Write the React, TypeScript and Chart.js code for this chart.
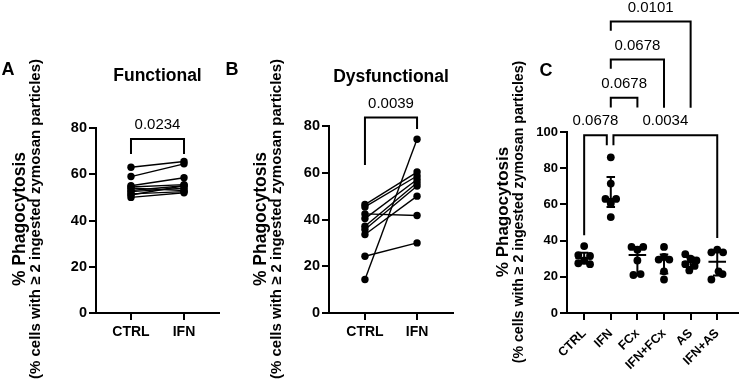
import React, { useEffect, useRef } from 'react';
import { Chart, registerables } from 'chart.js';

Chart.register(...registerables);

const FONT = '"Liberation Sans", Arial, Helvetica, sans-serif';

// ---------- data ----------
const pairLabels = ['CTRL', 'IFN'];

// Panel A – Functional (paired CTRL -> IFN)
const aCtrl = [63, 59, 55, 54.5, 54, 53, 52.5, 51.5, 51, 50];
const aIfn = [65.5, 64.5, 58.5, 55.5, 53, 55, 54, 52.5, 55, 52];

// Panel B – Dysfunctional (paired CTRL -> IFN)
const bCtrl = [14.3, 24.3, 42.4, 46.4, 45.4, 40.4, 37.1, 35.7, 33.6];
const bIfn = [74.3, 30, 41.7, 60.3, 58.6, 57.1, 55.7, 54.3, 50];

// Panel C – groups
const cCategories = ['CTRL', 'IFN', 'FCx', 'IFN+FCx', 'AS', 'IFN+AS'];
const cCtrl = [37, 32, 31.5, 27.5, 27, 29];
const cIfn = [86, 71.5, 63, 63, 60.5, 53];
const cFcx = [36.5, 36.5, 35, 29, 21, 21.5];
const cIfnFcx = [36.5, 31, 29.5, 29.5, 23, 18.5];
const cAs = [32.5, 30, 29, 27, 26, 23.5];
const cIfnAs = [35, 33.5, 33.5, 23, 21.5, 18.5];
const cGroups = [cCtrl, cIfn, cFcx, cIfnFcx, cAs, cIfnAs];
// horizontal scatter spread of each dot, in category units
const cCtrlJitter = [0, -0.22, 0.22, -0.22, 0.22, 0];
const cIfnJitter = [0, 0, -0.2, 0.2, 0, 0];
const cFcxJitter = [-0.22, 0.22, 0, 0, -0.15, 0.12];
const cIfnFcxJitter = [0, 0, -0.2, 0.2, 0, 0];
const cAsJitter = [-0.2, 0, 0.22, -0.2, 0.15, -0.05];
const cIfnAsJitter = [0, -0.22, 0.22, 0.05, 0.2, -0.22];
const cJitters = [cCtrlJitter, cIfnJitter, cFcxJitter, cIfnFcxJitter, cAsJitter, cIfnAsJitter];

const abYTicks = [0, 20, 40, 60, 80];
const cYTicks = [0, 20, 40, 60, 80, 100];

type Bracket = {
  from: number; to: number; fromDx: number; toDx: number;
  top: number; fromEnd: number; toEnd: number; label: string;
};

const aBrackets: Bracket[] = [
  { from: 0, to: 1, fromDx: 0, toDx: 0, top: 75.2, fromEnd: 68.8, toEnd: 68.8, label: '0.0234' },
];
const bBrackets: Bracket[] = [
  { from: 0, to: 1, fromDx: 0, toDx: 0, top: 83.6, fromEnd: 63.3, toEnd: 78.7, label: '0.0039' },
];
const cBrackets: Bracket[] = [
  { from: 0, to: 1, fromDx: 0, toDx: -0.15, top: 98.2, fromEnd: 43, toEnd: 92.7, label: '0.0678' },
  { from: 1, to: 5, fromDx: 0.1, toDx: 0, top: 98.2, fromEnd: 92.7, toEnd: 41.5, label: '0.0034' },
  { from: 1, to: 2, fromDx: 0, toDx: 0, top: 118.9, fromEnd: 113.6, toEnd: 113.6, label: '0.0678' },
  { from: 1, to: 3, fromDx: 0, toDx: 0, top: 140, fromEnd: 134.9, toEnd: 113.4, label: '0.0678' },
  { from: 1, to: 4, fromDx: 0, toDx: 0, top: 161.1, fromEnd: 156, toEnd: 113.4, label: '0.0101' },
];

// ---------- helpers ----------
function quantile(values: number[], p: number) {
  const s = [...values].sort((a, b) => a - b);
  const n = s.length;
  const pos = p * (n + 1);
  const lo = Math.floor(pos);
  const frac = pos - lo;
  if (lo < 1) return s[0];
  if (lo >= n) return s[n - 1];
  return s[lo - 1] + frac * (s[lo] - s[lo - 1]);
}

function drawBrackets(chart: any, brackets: Bracket[]) {
  const ctx = chart.ctx;
  const xs = chart.scales.x;
  const ys = chart.scales.y;
  ctx.save();
  ctx.strokeStyle = '#000';
  ctx.lineWidth = 2;
  ctx.lineJoin = 'miter';
  ctx.lineCap = 'butt';
  ctx.fillStyle = '#000';
  ctx.font = `15px ${FONT}`;
  ctx.textAlign = 'center';
  ctx.textBaseline = 'middle';
  brackets.forEach((b) => {
    const x1 = xs.getPixelForValue(b.from + b.fromDx);
    const x2 = xs.getPixelForValue(b.to + b.toDx);
    const yt = ys.getPixelForValue(b.top);
    ctx.beginPath();
    ctx.moveTo(x1, ys.getPixelForValue(b.fromEnd));
    ctx.lineTo(x1, yt);
    ctx.lineTo(x2, yt);
    ctx.lineTo(x2, ys.getPixelForValue(b.toEnd));
    ctx.stroke();
    ctx.fillText(b.label, (x1 + x2) / 2, yt - 14);
  });
  ctx.restore();
}

type Deco = {
  title?: string;
  letter: string;
  letterX: number;
  letterY: number;
  titleY?: number;
  yTitleX1: number;
  yTitleX2: number;
  yTitleCY: number;
  size1: number;
  size2: number;
};

function drawDeco(chart: any, d: Deco) {
  const ctx = chart.ctx;
  const area = chart.chartArea;
  ctx.save();
  ctx.fillStyle = '#000';
  ctx.textAlign = 'center';
  ctx.textBaseline = 'middle';
  ctx.font = `bold 18px ${FONT}`;
  ctx.fillText(d.letter, d.letterX, d.letterY);
  if (d.title) {
    ctx.font = `bold 17.5px ${FONT}`;
    ctx.fillText(d.title, (area.left + area.right) / 2, d.titleY);
  }
  const lines = [
    { text: '% Phagocytosis', size: d.size1, x: d.yTitleX1 },
    { text: '(% cells with \u2265 2 ingested zymosan particles)', size: d.size2, x: d.yTitleX2 },
  ];
  lines.forEach((l) => {
    ctx.save();
    ctx.translate(l.x, d.yTitleCY);
    ctx.rotate(-Math.PI / 2);
    ctx.font = `bold ${l.size}px ${FONT}`;
    ctx.fillText(l.text, 0, 0);
    ctx.restore();
  });
  ctx.restore();
}

function xScale(min: number, max: number, labels: string[], rotate: number, pad: number, size: number) {
  return {
    type: 'linear',
    min,
    max,
    afterBuildTicks: (s: any) => {
      s.ticks = labels.map((_, i) => ({ value: i }));
    },
    afterFit: (s: any) => {
      s.height = 72;
      s.paddingLeft = 0;
      s.paddingRight = 0;
    },
    ticks: {
      callback: (v: any) => labels[Math.round(Number(v))] ?? '',
      font: { family: FONT, size, weight: 'bold' },
      color: '#000',
      padding: pad,
      minRotation: rotate,
      maxRotation: rotate,
      autoSkip: false,
    },
    grid: { drawOnChartArea: false, drawTicks: true, tickLength: 7, color: '#000', lineWidth: 2 },
    border: { display: true, color: '#000', width: 2 },
  };
}

function yScale(ticks: number[], size: number) {
  return {
    type: 'linear',
    min: ticks[0],
    max: ticks[ticks.length - 1],
    afterBuildTicks: (s: any) => {
      s.ticks = ticks.map((v) => ({ value: v }));
    },
    afterFit: (s: any) => {
      s.width = 40;
      s.paddingTop = 0;
      s.paddingBottom = 0;
    },
    ticks: {
      font: { family: FONT, size, weight: 'bold' },
      color: '#000',
      padding: 2,
    },
    grid: { drawOnChartArea: false, drawTicks: true, tickLength: 7, color: '#000', lineWidth: 2 },
    border: { display: true, color: '#000', width: 2 },
  };
}

function pairConfig(
  ctrl: number[], ifn: number[], padding: any, xMin: number, xMax: number,
  brackets: Bracket[], deco: Deco,
) {
  return {
    type: 'scatter',
    data: {
      datasets: ctrl.map((c, i) => ({
        data: [{ x: 0, y: c }, { x: 1, y: ifn[i] }],
        showLine: true,
        borderColor: '#000',
        borderWidth: 1.4,
        pointRadius: 3.7,
        pointBackgroundColor: '#000',
        pointBorderWidth: 0,
        clip: false,
      })),
    },
    options: {
      animation: false,
      responsive: false,
      devicePixelRatio: 1,
      layout: { padding },
      plugins: { legend: { display: false }, tooltip: { enabled: false }, title: { display: false } },
      scales: {
        x: xScale(xMin, xMax, pairLabels, 0, 4, 14),
        y: yScale(abYTicks, 14.5),
      },
    },
    plugins: [
      {
        id: 'deco',
        afterDraw(chart: any) {
          drawBrackets(chart, brackets);
          drawDeco(chart, deco);
        },
      },
    ],
  };
}

function groupConfig() {
  const datasets = cGroups.map((vals, gi) => ({
    data: vals.map((v, j) => ({ x: gi + cJitters[gi][j], y: v })),
    showLine: false,
    pointRadius: 3.9,
    pointBackgroundColor: '#000',
    pointBorderWidth: 0,
    clip: false,
  }));
  return {
    type: 'scatter',
    data: { datasets },
    options: {
      animation: false,
      responsive: false,
      devicePixelRatio: 1,
      layout: { padding: { left: 527, right: 0, top: 132, bottom: 0 } },
      plugins: { legend: { display: false }, tooltip: { enabled: false }, title: { display: false } },
      scales: {
        x: xScale(-0.645, 5.78, cCategories, 45, 6, 12.5),
        y: yScale(cYTicks, 13),
      },
    },
    plugins: [
      {
        id: 'errbars',
        afterDatasetsDraw(chart: any) {
          const ctx = chart.ctx;
          const xs = chart.scales.x;
          const ys = chart.scales.y;
          ctx.save();
          ctx.strokeStyle = '#000';
          ctx.lineWidth = 2;
          cGroups.forEach((vals, gi) => {
            const med = quantile(vals, 0.5);
            const q1 = quantile(vals, 0.25);
            const q3 = quantile(vals, 0.75);
            const xc = xs.getPixelForValue(gi);
            const mw = xs.getPixelForValue(gi + 0.33) - xc;
            const cw = xs.getPixelForValue(gi + 0.16) - xc;
            const ym = ys.getPixelForValue(med);
            const y1 = ys.getPixelForValue(q1);
            const y3 = ys.getPixelForValue(q3);
            ctx.beginPath();
            ctx.moveTo(xc - mw, ym);
            ctx.lineTo(xc + mw, ym);
            ctx.moveTo(xc, y1);
            ctx.lineTo(xc, y3);
            ctx.moveTo(xc - cw, y1);
            ctx.lineTo(xc + cw, y1);
            ctx.moveTo(xc - cw, y3);
            ctx.lineTo(xc + cw, y3);
            ctx.stroke();
          });
          ctx.restore();
        },
        afterDraw(chart: any) {
          drawBrackets(chart, cBrackets);
          drawDeco(chart, {
            letter: 'C', letterX: 546, letterY: 71,
            yTitleX1: 503, yTitleX2: 519, yTitleCY: 212, size1: 17, size2: 14.2,
          });
        },
      },
    ],
  };
}

export default function App() {
  const aRef = useRef<HTMLCanvasElement>(null);
  const bRef = useRef<HTMLCanvasElement>(null);
  const cRef = useRef<HTMLCanvasElement>(null);

  useEffect(() => {
    const charts: Chart[] = [];
    if (aRef.current) {
      charts.push(new Chart(aRef.current, pairConfig(
        aCtrl, aIfn, { left: 56, right: 523, top: 128, bottom: 0 }, -0.66, 1.66, aBrackets,
        { title: 'Functional', titleY: 76, letter: 'A', letterX: 8, letterY: 70, yTitleX1: 20, yTitleX2: 36, yTitleCY: 219, size1: 17.5, size2: 15 },
      ) as any));
    }
    if (bRef.current) {
      charts.push(new Chart(bRef.current, pairConfig(
        bCtrl, bIfn, { left: 289, right: 289, top: 126, bottom: 0 }, -0.69, 1.69, bBrackets,
        { title: 'Dysfunctional', titleY: 77, letter: 'B', letterX: 232, letterY: 70, yTitleX1: 261, yTitleX2: 277, yTitleCY: 219, size1: 17.5, size2: 15 },
      ) as any));
    }
    if (cRef.current) {
      charts.push(new Chart(cRef.current, groupConfig() as any));
    }
    return () => charts.forEach((c) => c.destroy());
  }, []);

  const cv: React.CSSProperties = { position: 'absolute', left: 0, top: 0, width: 742, height: 385 };
  return (
    <div style={{ position: 'fixed', left: 0, top: 0, width: 742, height: 385, background: '#fff', overflow: 'hidden' }}>
      <canvas ref={aRef} width={742} height={385} style={cv} />
      <canvas ref={bRef} width={742} height={385} style={cv} />
      <canvas ref={cRef} width={742} height={385} style={cv} />
    </div>
  );
}
